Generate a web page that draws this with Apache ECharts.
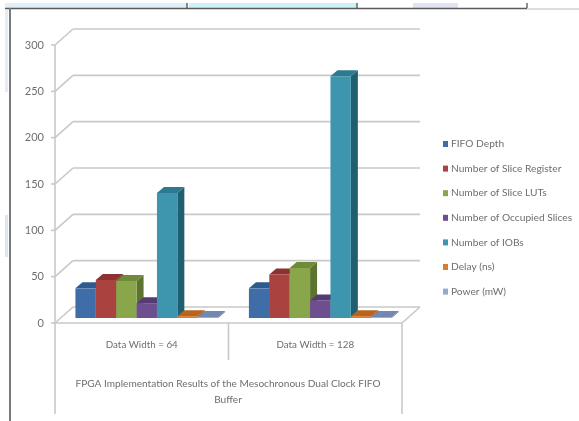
<!DOCTYPE html>
<html>
<head>
<meta charset="utf-8">
<style>html,body{margin:0;padding:0;background:#fff}#chart{width:579px;height:421px}</style>
<script src="https://cdn.jsdelivr.net/npm/echarts@6/dist/echarts.min.js"></script>
</head>
<body>
<div id="chart"></div>
<script>
// FPGA implementation results, drawn as a clustered column chart with box-shaped bars.
const categories = ['Data Width = 64', 'Data Width = 128'];
const valueTicks = [0, 50, 100, 150, 200, 250, 300];
const seriesNames = ['FIFO Depth', 'Number of Slice Register', 'Number of Slice LUTs',
  'Number of Occupied Slices', 'Number of IOBs', 'Delay (ns)', 'Power (mW)'];
const fifoDepth = [32, 32];
const sliceRegister = [41, 47];
const sliceLuts = [40, 54];
const occupiedSlices = [16, 19];
const iobs = [135, 261];
const delayNs = [2, 2];
const powerMw = [1, 1];
const seriesValues = [fifoDepth, sliceRegister, sliceLuts, occupiedSlices, iobs, delayNs, powerMw];
const seriesColors = ['#3e6da8', '#aa4340', '#8aa64a', '#6d4f90', '#3d96ae', '#d87d30', '#92a9d0'];
const topColors = ['#2f5a8f', '#8c3230', '#6f8a38', '#553a75', '#2b7a90', '#b8641e', '#7288b0'];
const sideColors = ['#2a4f7e', '#7a2a28', '#5c7430', '#472f63', '#1f5f70', '#9a5418', '#5f7398'];
const axisText = '#6e6e6e';
const gridGray = '#c9c9c9';

const depth = { wallX: 18, wallY: -16, barX: 3.5, barY: -5, boxX: 7, boxY: -6 };

const shade = (pts, fill) => ({
  type: 'polygon',
  shape: { points: pts },
  style: { fill: fill }
});

const barSeries = seriesNames.map((name, s) => ({
  name: name,
  type: 'custom',
  coordinateSystem: 'cartesian2d',
  itemStyle: { color: seriesColors[s] },
  z: 5,
  data: categories.map((c, i) => [i, seriesValues[s][i]]),
  renderItem: (params, api) => {
    const cat = api.value(0);
    const top = api.coord([cat, api.value(1)]);
    const base = api.coord([cat, 0]);
    const band = api.size([1, 0])[0];
    const w = band * 0.1175;
    const x0 = top[0] - band / 2 + band * 0.0975 + w * s + depth.barX;
    const x1 = x0 + w;
    const yt = top[1] + depth.barY;
    const yb = base[1] + depth.barY;
    const dx = depth.boxX, dy = depth.boxY;
    return {
      type: 'group',
      children: [
        shade([[x1, yt], [x1 + dx, yt + dy], [x1 + dx, yb + dy], [x1, yb]], sideColors[s]),
        shade([[x0, yt], [x0 + dx, yt + dy], [x1 + dx, yt + dy], [x1, yt]], topColors[s]),
        shade([[x0, yt], [x1, yt], [x1, yb], [x0, yb]], seriesColors[s])
      ]
    };
  }
}));

// Back wall rules, floor edges and the drop lines of the two-level category axis.
const frameSeries = {
  type: 'custom',
  coordinateSystem: 'cartesian2d',
  silent: true,
  z: 1,
  legendHoverLink: false,
  data: valueTicks.map(v => [v]),
  encode: { y: 0 },
  renderItem: (params, api) => {
    const v = api.value(0);
    const band = api.size([1, 0])[0];
    const first = api.coord([0, v]);
    const last = api.coord([1, v]);
    const left = [first[0] - band / 2, first[1]];
    const right = [last[0] + band / 2, last[1]];
    const line = (a, b) => ({
      type: 'line',
      shape: { x1: a[0], y1: a[1], x2: b[0], y2: b[1] },
      style: { stroke: gridGray, lineWidth: 1.6 }
    });
    const backL = [left[0] + depth.wallX, left[1] + depth.wallY];
    const backR = [right[0] + depth.wallX, right[1] + depth.wallY];
    const kids = [
      line([left[0] - 4, left[1]], left),
      line(left, backL),
      line(backL, backR)
    ];
    if (v === 0) {
      const topLeft = api.coord([0, 300]);
      kids.push(line(right, backR));
      kids.push(line(left, right));
      kids.push(line([left[0], topLeft[1]], [left[0], 414]));
      kids.push(line(right, [right[0], 414]));
      kids.push(line([first[0] + band / 2, left[1]], [first[0] + band / 2, 360]));
    }
    return { type: 'group', children: kids };
  }
};

const chart = echarts.init(document.getElementById('chart'), null, { renderer: 'canvas' });
chart.setOption({
  animation: false,
  backgroundColor: '#ffffff',
  textStyle: { fontFamily: 'Lato' },
  grid: { left: 55, right: 177, top: 45, bottom: 98, containLabel: false },
  title: {
    text: 'FPGA Implementation Results of the Mesochronous Dual Clock FIFO\nBuffer',
    left: 223,
    top: 371,
    textAlign: 'center',
    textStyle: { fontFamily: 'Lato', fontSize: 10.1, fontWeight: 'normal', color: axisText, lineHeight: 16 }
  },
  legend: {
    orient: 'vertical',
    left: 438,
    top: 134,
    itemWidth: 5,
    itemHeight: 6,
    itemGap: 14.6,
    icon: 'rect',
    data: seriesNames,
    textStyle: { fontFamily: 'Lato', fontSize: 10.2, color: axisText, padding: [0, 0, 0, -2] }
  },
  xAxis: {
    type: 'category',
    data: categories,
    axisLine: { show: false },
    axisTick: { show: false },
    axisLabel: { color: axisText, fontSize: 9.8, margin: 17 }
  },
  yAxis: {
    type: 'value',
    min: 0,
    max: 300,
    interval: 50,
    axisLine: { show: false },
    axisTick: { show: false },
    splitLine: { show: false },
    axisLabel: { color: axisText, fontSize: 11, margin: 11 }
  },
  series: [frameSeries].concat(barSeries),
  // Window frame fragments around the pasted chart.
  graphic: [
    { type: 'rect', shape: { x: 5, y: 3, width: 183, height: 5 }, style: { fill: '#e2eef8' }, z: 0 },
    { type: 'rect', shape: { x: 189, y: 3, width: 168, height: 5 }, style: { fill: '#cdf3f8' }, z: 0 },
    { type: 'rect', shape: { x: 413, y: 3, width: 45, height: 5 }, style: { fill: '#dfe3f2' }, z: 0 },
    { type: 'rect', shape: { x: 5, y: 10, width: 3, height: 82 }, style: { fill: '#e4ecf8' }, z: 0 },
    { type: 'rect', shape: { x: 5, y: 215, width: 3, height: 42 }, style: { fill: '#dde6f4' }, z: 0 },
    { type: 'line', shape: { x1: 5, y1: 8.5, x2: 527, y2: 8.5 }, style: { stroke: '#5a5a5a', lineWidth: 1.6 }, z: 2 },
    { type: 'line', shape: { x1: 527, y1: 9, x2: 579, y2: 9 }, style: { stroke: '#bbbbbb', lineWidth: 1 }, z: 2 },
    { type: 'line', shape: { x1: 10, y1: 8, x2: 10, y2: 421 }, style: { stroke: '#7a7a7a', lineWidth: 2 }, z: 2 },
    { type: 'line', shape: { x1: 187, y1: 3, x2: 187, y2: 8 }, style: { stroke: '#444444', lineWidth: 1.2 }, z: 2 },
    { type: 'line', shape: { x1: 357, y1: 3, x2: 357, y2: 8 }, style: { stroke: '#444444', lineWidth: 1.2 }, z: 2 },
    { type: 'line', shape: { x1: 527, y1: 3, x2: 527, y2: 8 }, style: { stroke: '#444444', lineWidth: 1.2 }, z: 2 }
  ]
});
</script>
</body>
</html>
